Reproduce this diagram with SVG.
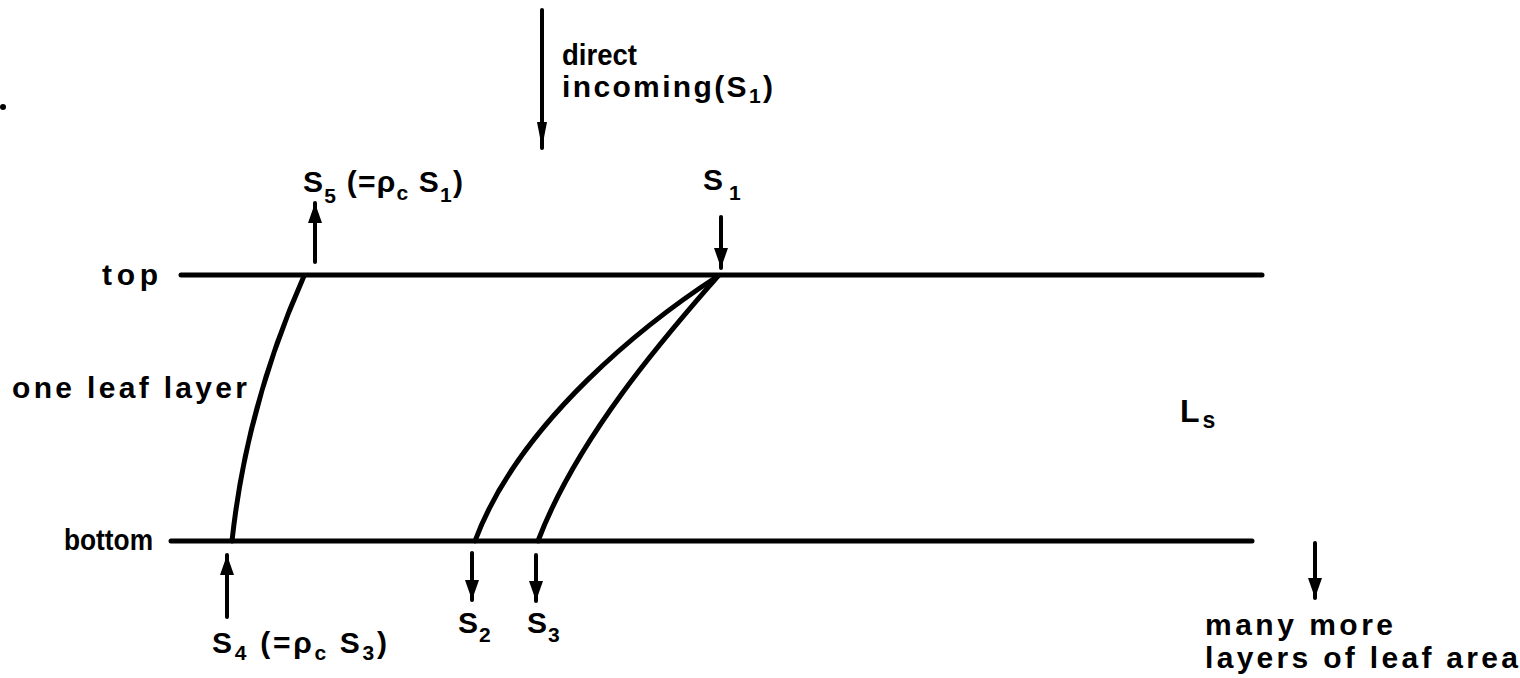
<svg xmlns="http://www.w3.org/2000/svg" width="1520" height="678" viewBox="0 0 1520 678">
<style>
  text { font-family: "Liberation Sans", "DejaVu Sans", sans-serif; font-size: 30px; font-weight: bold; fill: #000; }
  .sub { font-size: 21px; }
  .ln { stroke: #000; stroke-width: 5; fill: none; stroke-linecap: round; }
  .ar { stroke: #000; stroke-width: 4; fill: none; stroke-linecap: round; }
</style>
<defs>
  <marker id="ah" markerUnits="userSpaceOnUse" markerWidth="24" markerHeight="18" refX="20" refY="8" orient="auto">
    <path d="M0,1 L20,8 L0,15 Z" fill="#000"/>
  </marker>
  <marker id="ahn" markerUnits="userSpaceOnUse" markerWidth="30" markerHeight="14" refX="26" refY="6" orient="auto">
    <path d="M0,1 L26,6 L0,11 Z" fill="#000"/>
  </marker>
</defs>
<rect width="1520" height="678" fill="#fff"/>
<circle cx="3" cy="107" r="3" fill="#000"/>

<g id="layers">
  <line class="ln" x1="181" y1="275" x2="1262" y2="275"/>
  <line class="ln" x1="171" y1="541" x2="1252" y2="541"/>
</g>

<g id="connectors">
  <path class="ln" d="M304,276 C280,330 245,420 232,541"/>
  <path class="ln" d="M718,276 C650,320 520,420 475,541"/>
  <path class="ln" d="M718,276 C680,320 580,430 538,541"/>
  <line class="ar" x1="542" y1="10" x2="542" y2="148" marker-end="url(#ahn)"/>
  <line class="ar" x1="315" y1="262" x2="315" y2="203" marker-end="url(#ah)"/>
  <line class="ar" x1="721" y1="217" x2="721" y2="268" marker-end="url(#ah)"/>
  <line class="ar" x1="227" y1="617" x2="227" y2="555" marker-end="url(#ah)"/>
  <line class="ar" x1="472" y1="553" x2="472" y2="600" marker-end="url(#ah)"/>
  <line class="ar" x1="536" y1="555" x2="536" y2="601" marker-end="url(#ah)"/>
  <line class="ar" x1="1315" y1="543" x2="1315" y2="598" marker-end="url(#ah)"/>
</g>

<g id="label-direct">
  <text x="562" y="65" textLength="75" lengthAdjust="spacingAndGlyphs">direct</text>
  <text x="562" y="97" textLength="211" lengthAdjust="spacing">incoming(S<tspan class="sub" dy="6">1</tspan><tspan dy="-6">)</tspan></text>
</g>
<g id="label-top"><text x="102" y="285" textLength="56" lengthAdjust="spacing">top</text></g>
<g id="label-bottom"><text x="64" y="550" textLength="89" lengthAdjust="spacingAndGlyphs">bottom</text></g>
<g id="label-leaf"><text x="12" y="398" textLength="235" lengthAdjust="spacing">one leaf layer</text></g>
<g id="label-Ls"><text x="1180" y="422" style="font-size:32px">L<tspan class="sub" dx="3" dy="6" style="font-size:23px">s</tspan></text></g>
<g id="label-S5"><text x="303" y="192" textLength="160" lengthAdjust="spacing">S<tspan class="sub" dy="11">5</tspan><tspan dy="-11"> (=ρ</tspan><tspan class="sub" dy="8">c</tspan><tspan dy="-8"> S</tspan><tspan class="sub" dy="10">1</tspan><tspan dy="-10">)</tspan></text></g>
<g id="label-S1"><text x="703" y="190">S<tspan class="sub" dx="6" dy="10">1</tspan></text></g>
<g id="label-S4"><text x="212" y="653" textLength="175" lengthAdjust="spacing">S<tspan class="sub" dy="7">4</tspan><tspan dy="-7"> (=ρ</tspan><tspan class="sub" dy="7">c</tspan><tspan dy="-7"> S</tspan><tspan class="sub" dy="7">3</tspan><tspan dy="-7">)</tspan></text></g>
<g id="label-S2"><text x="458" y="633">S<tspan class="sub" dx="1" dy="9">2</tspan></text></g>
<g id="label-S3"><text x="527" y="633">S<tspan class="sub" dx="1" dy="9">3</tspan></text></g>
<g id="label-more">
  <text x="1205" y="635" textLength="188" lengthAdjust="spacing">many more</text>
  <text x="1205" y="668" textLength="313" lengthAdjust="spacing">layers of leaf area</text>
</g>
</svg>
